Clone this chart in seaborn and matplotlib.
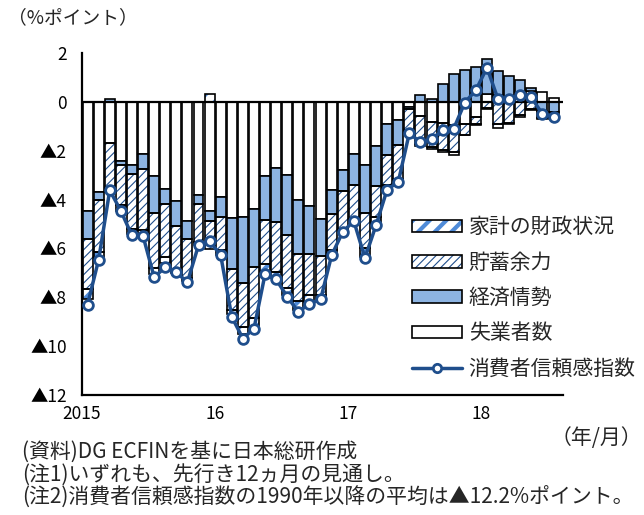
import numpy as np
import pandas as pd
import matplotlib
matplotlib.use("Agg")
import matplotlib.pyplot as plt
import seaborn as sns
from matplotlib.patches import Patch
from matplotlib.lines import Line2D

#_____DATA_____
months = pd.period_range("2015-01", "2018-07", freq="M").strftime("%Y-%m").tolist()

# 失業者数
unemp = [-4.47, -3.70, -1.70, -2.42, -2.60, -2.12, -3.05, -3.55, -4.07, -4.87,
         -3.81, -4.47, -3.88, -4.74, -4.71, -4.37, -3.02, -2.69, -3.01, -4.00,
         -4.27, -4.78, -3.59, -2.80, -2.12, -2.60, -1.82, -0.89, -0.76, -0.22,
         -0.57, -0.83, -0.87, -0.96, -0.92, -0.61, 0.31, 0.30, 0.20, 0.30,
         0.45, 0.42, 0.15]
# 経済情勢
econ = [-1.15, -0.30, 0.10, -0.15, -0.37, -0.64, -1.49, -0.62, -1.02, -0.76,
        -0.39, -0.39, -0.83, -2.11, -2.70, -2.39, -1.83, -2.23, -2.45, -2.24,
        -1.97, -1.54, -1.01, -0.85, -1.27, -1.93, -1.62, -1.30, -0.99, -0.08,
        0.27, 0.10, 0.75, 1.13, 1.30, 1.41, 1.44, 0.95, 0.85, 0.60,
        0.10, -0.36, -0.42]
# 貯蓄余力
saving = [-2.06, -2.14, -1.85, -1.66, -2.22, -2.50, -2.26, -2.19, -1.80, -1.58,
          -1.55, -1.15, -1.36, -1.68, -1.80, -2.08, -1.79, -2.04, -2.14, -1.92,
          -1.67, -1.59, -1.47, -1.54, -1.39, -1.47, -1.27, -1.22, -1.39, -0.85,
          -1.15, -1.00, -1.10, -1.09, -0.43, -0.30, -0.25, -0.90, -0.85, -0.55,
          -0.30, -0.30, -0.25]
# 家計の財政状況
household = [-0.37, -0.38, -0.15, -0.22, -0.20, -0.20, -0.23, -0.22, -0.12, -0.12,
             -0.12, 0.33, -0.21, -0.15, -0.30, -0.36, -0.33, -0.25, -0.30, -0.36,
             -0.28, -0.15, -0.18, -0.10, -0.08, -0.35, -0.30, -0.15, -0.12, -0.12,
             -0.10, -0.10, -0.10, -0.12, -0.02, -0.02, -0.05, -0.18, -0.05, -0.05,
             -0.05, -0.03, -0.03]
# 消費者信頼感指数
confidence = [-8.30, -6.46, -3.62, -4.46, -5.47, -5.49, -7.17, -6.78, -6.98, -7.38,
              -5.87, -5.70, -6.28, -8.80, -9.69, -9.28, -7.05, -7.27, -7.98, -8.60,
              -8.26, -8.09, -6.28, -5.32, -4.88, -6.39, -5.05, -3.59, -3.28, -1.28,
              -1.66, -1.53, -1.16, -1.10, -0.03, 0.48, 1.40, 0.10, 0.10, 0.30,
              0.18, -0.50, -0.60]

year_ticks = ["2015", "16", "17", "18"]
y_ticks = list(range(-12, 3, 2))

#_____STYLE_____
sns.set_theme(style="white")
plt.rcParams['font.family'] = ['Noto Sans CJK JP', 'DejaVu Sans']

BLUE = "#8DB4E2"
NAVY = "#1F4E8C"
STRIPE = "#4F8BD8"
HLW_SAVE = 0.8
HLW_HOUSE = 3.0

fig = plt.figure(figsize=(6.44, 5.15), dpi=100)
ax = fig.add_axes([82/644, 1-395/515, (563-82)/644, (395-53)/515])

x = np.arange(len(months))
W = 0.9
pos_base = np.zeros(len(x))
neg_base = np.zeros(len(x))


def hatch_lw(artist, lw):
    # per-patch hatch width: set it on the patch if supported and also
    # wrap draw so the rcParam is right when the renderer reads it
    if hasattr(artist, "set_hatch_linewidth"):
        artist.set_hatch_linewidth(lw)
    artist._hatch_linewidth = lw
    orig = artist.draw
    def draw(renderer):
        with plt.rc_context({'hatch.linewidth': lw}):
            orig(renderer)
    artist.draw = draw


def stack(vals, face, hatch=None, hcolor=None, hlw=1.0):
    global pos_base, neg_base
    v = np.array(vals)
    bottom = np.where(v >= 0, pos_base, neg_base)
    if hatch:
        with plt.rc_context({'hatch.linewidth': hlw}):
            bars = ax.bar(x, v, W, bottom=bottom, color="white", edgecolor=hcolor,
                          hatch=hatch, linewidth=0, zorder=2)
        for p in bars:
            hatch_lw(p, hlw)
        ax.bar(x, v, W, bottom=bottom, facecolor="none", edgecolor="black",
               linewidth=1.2, zorder=3)
    else:
        ax.bar(x, v, W, bottom=bottom, color=face, edgecolor="black",
               linewidth=1.2, zorder=3)
    pos_base = pos_base + np.where(v >= 0, v, 0)
    neg_base = neg_base + np.where(v < 0, v, 0)


stack(unemp, "white")
stack(econ, BLUE)
stack(saving, None, hatch="////", hcolor=NAVY, hlw=HLW_SAVE)
stack(household, None, hatch="//", hcolor=STRIPE, hlw=HLW_HOUSE)

ax.axhline(0, color="black", lw=1.6, zorder=4)

sns.lineplot(x=x, y=confidence, ax=ax, color=NAVY, lw=2.5, marker="o",
             markersize=7, markerfacecolor="white", markeredgecolor=NAVY,
             markeredgewidth=2, legend=False, zorder=5)

#_____AXES_____
ax.set_xlim(-0.5, 42.85)
ax.set_ylim(-12, 2)
ax.set_xticks([-0.5, 11.5, 23.5, 35.5])
ax.set_xticklabels(year_ticks)
ax.set_yticks(y_ticks)
ax.set_yticklabels([str(v) if v >= 0 else "▲" + str(-v) for v in y_ticks])
ax.tick_params(axis="both", direction="in", length=5, width=1.5, labelsize=12.5,
               colors="black")
ax.tick_params(axis="y", pad=11)
ax.tick_params(axis="x", pad=7)
for s in ["top", "right"]:
    ax.spines[s].set_visible(False)
for s in ["left", "bottom"]:
    ax.spines[s].set_color("black")
    ax.spines[s].set_linewidth(1.6)
ax.set_xlabel("")
ax.set_ylabel("")

#_____LEGEND_____
handles = [
    (Patch(facecolor="white", edgecolor=STRIPE, hatch="//", linewidth=0),
     Patch(facecolor="none", edgecolor="black", linewidth=1.2)),
    (Patch(facecolor="white", edgecolor=NAVY, hatch="////", linewidth=0),
     Patch(facecolor="none", edgecolor="black", linewidth=1.2)),
    Patch(facecolor=BLUE, edgecolor="black", linewidth=1.2),
    Patch(facecolor="white", edgecolor="black", linewidth=1.2),
    Line2D([0], [0], color=NAVY, lw=2.5, marker="o", markersize=6,
           markerfacecolor="white", markeredgecolor=NAVY, markeredgewidth=2),
]
labels = ["家計の財政状況", "貯蓄余力", "経済情勢", "失業者数", "消費者信頼感指数"]
leg = ax.legend(handles, labels, loc="upper left", bbox_to_anchor=(402/644, 1-206/515),
                bbox_transform=fig.transFigure, frameon=False, fontsize=15,
                handlelength=2.4, handleheight=0.55, handletextpad=0.3,
                labelspacing=0.64, borderpad=0)
for p in leg.findobj(lambda a: isinstance(a, Patch) and bool(a.get_hatch())):
    hatch_lw(p, HLW_HOUSE if p.get_hatch() == "//" else HLW_SAVE)

#_____TEXT_____
fig.text(8/644, 1-18/515, "（%ポイント）", fontsize=13.5, va="center", ha="left")
fig.text(642/644, 1-438/515, "（年/月）", fontsize=15, va="center", ha="right")
notes = ["(資料)DG ECFINを基に日本総研作成",
         "(注1)いずれも、先行き12ヵ月の見通し。",
         "(注2)消費者信頼感指数の1990年以降の平均は▲12.2%ポイント。"]
for i, t in enumerate(notes):
    fig.text(22/644, 1-(452 + 23*i)/515, t, fontsize=15, va="center", ha="left")

fig.savefig("out.png", dpi=100)
